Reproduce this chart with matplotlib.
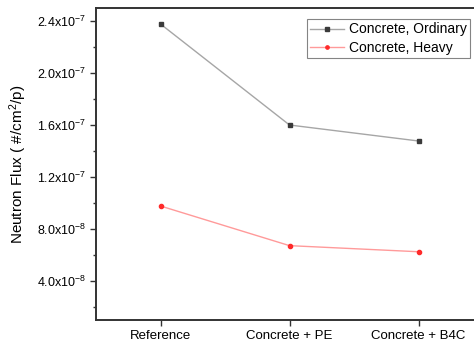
import numpy as np
import matplotlib
matplotlib.use("Agg")
import matplotlib.pyplot as plt

# ==============================
# DATA
# ==============================
categories = ["Reference", "Concrete + PE", "Concrete + B4C"]
flux_ordinary = [2.377e-7, 1.60e-7, 1.477e-7]
flux_heavy = [9.77e-8, 6.72e-8, 6.25e-8]

ytick_values = [4e-8, 8e-8, 1.2e-7, 1.6e-7, 2.0e-7, 2.4e-7]
ytick_labels = [r"$4.0\mathrm{x}10^{-8}$", r"$8.0\mathrm{x}10^{-8}$",
                r"$1.2\mathrm{x}10^{-7}$", r"$1.6\mathrm{x}10^{-7}$",
                r"$2.0\mathrm{x}10^{-7}$", r"$2.4\mathrm{x}10^{-7}$"]

# ==============================
# STYLE
# ==============================
plt.rcParams["font.family"] = ["Liberation Sans", "DejaVu Sans"]
plt.rcParams["mathtext.fontset"] = "custom"
plt.rcParams["mathtext.rm"] = "Liberation Sans"
plt.rcParams["mathtext.it"] = "Liberation Sans:italic"
plt.rcParams["mathtext.default"] = "rm"

fig = plt.figure(figsize=(4.74, 3.42), dpi=100)
W, H = 474, 342
left, right, top, bottom = 96, 483, 8, 320
ax = fig.add_axes([left / W, 1 - bottom / H, (right - left) / W, (bottom - top) / H])

x = np.arange(len(categories))
ax.plot(x, flux_ordinary, color="#a6a6a6", lw=1.0, marker="s", ms=2.8,
        mfc="#3a3a3a", mec="#3a3a3a", label="Concrete, Ordinary")
ax.plot(x, flux_heavy, color="#ff9a9a", lw=1.0, marker="o", ms=3.0,
        mfc="#ff2a2a", mec="#ff2a2a", label="Concrete, Heavy")

ax.set_xlim(-0.5, 2.5)
ax.set_ylim(1e-8, 2.5e-7)
ax.set_xticks(x)
ax.set_xticklabels(categories, fontsize=9.5)
ax.set_yticks(ytick_values)
ax.set_yticklabels(ytick_labels, fontsize=9)
ax.set_yticks(np.arange(2e-8, 2.5e-7, 4e-8), minor=True)

for s in ax.spines.values():
    s.set_linewidth(1.4)
    s.set_color("#333333")

ax.tick_params(axis="both", which="major", direction="out", length=4,
               width=1.0, color="#333333", pad=3)
ax.tick_params(axis="y", which="minor", direction="out", length=2.5,
               width=1.0, color="#333333")

ax.set_ylabel(r"Neutron Flux ( #/cm$^2$/p)", fontsize=11, labelpad=6)

leg = ax.legend(loc="upper left", bbox_to_anchor=((307 - left) / (right - left), 1 - (19 - top) / (bottom - top)),
                fontsize=10, frameon=True, fancybox=False, borderaxespad=0,
                handlelength=2.4, handletextpad=0.35, borderpad=0.25, labelspacing=0.3,
                markerscale=0.8)
leg.get_frame().set_edgecolor("#666666")
leg.get_frame().set_linewidth(0.8)

plt.savefig("out.png", dpi=100)
